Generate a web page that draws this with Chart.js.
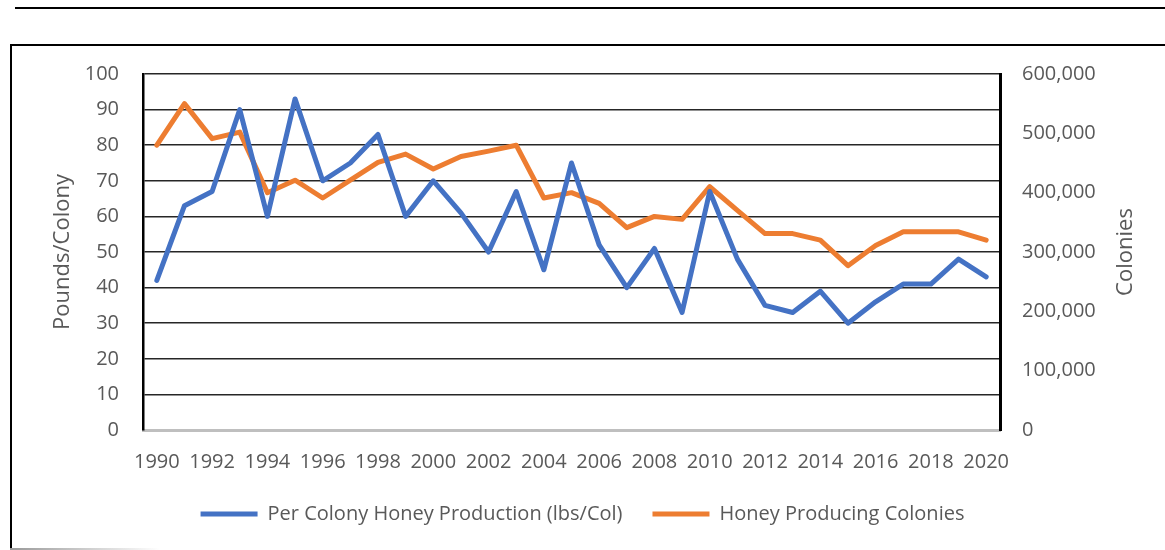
<!DOCTYPE html>
<html>
<head>
<meta charset="utf-8">
<script src="https://cdn.jsdelivr.net/npm/chart.js@4.4.0/dist/chart.umd.min.js"></script>
<style>
  html, body { margin: 0; padding: 0; background: #fff; }
  #wrap { position: relative; width: 1165px; height: 550px; overflow: hidden; }
  #topline { position: absolute; left: 15px; top: 7px; width: 1150px; height: 2px; background: #000; }
  #frame { position: absolute; left: 10px; top: 44px; width: 1200px; height: 520px;
           border-left: 2px solid #000; border-top: 2px solid #000; }
  #foot { position: absolute; left: 10px; top: 548px; width: 150px; height: 2px;
          background: linear-gradient(to right, #999, #fff); }
  #grapHoney { position: absolute; left: 0; top: 0; }
</style>
</head>
<body>
<div id="wrap">
  <div id="topline"></div>
  <div id="frame"></div>
  <div id="foot"></div>
  <canvas id="grapHoney" width="1165" height="550"></canvas>
</div>
<script>
// years on the category axis
var years = ['1990', '1991', '1992', '1993', '1994', '1995', '1996', '1997', '1998', '1999',
  '2000', '2001', '2002', '2003', '2004', '2005', '2006', '2007', '2008', '2009',
  '2010', '2011', '2012', '2013', '2014', '2015', '2016', '2017', '2018', '2019', '2020'];

// lbs per colony (left axis)
var lbsPerColony = [42, 63, 67, 90, 60, 93, 70, 75, 83, 60,
  70, 61, 50, 67, 45, 75, 52, 40, 51, 33,
  67, 48, 35, 33, 39, 30, 36, 41, 41, 48, 43];

// honey producing colonies (right axis)
var colonies = [480000, 550000, 491000, 502000, 400000, 421000, 391000, 421000, 451000, 465000,
  440000, 461000, 470000, 480000, 391000, 400000, 382000, 341000, 360000, 355000,
  410000, 370000, 331000, 331000, 320000, 277000, 311000, 334000, 334000, 334000, 320000];

var textColor = '#595959';
var fontFam = "'Open Sans', sans-serif";

// right axis title reads bottom-to-top like the left one
var colTitle = {
  id: 'colTitle',
  afterDraw: function (chart) {
    var c = chart.ctx, a = chart.chartArea;
    c.save();
    c.translate(chart.scales.y1.right - 39, (a.top + a.bottom) / 2);
    c.rotate(-Math.PI / 2);
    c.textAlign = 'center';
    c.textBaseline = 'middle';
    c.fillStyle = textColor;
    c.font = "22px 'Open Sans'";
    c.fillText('Colonies', 0, 0);
    c.restore();
  }
};

var ctx = document.getElementById('grapHoney');
new Chart(ctx, {
  type: 'line',
  plugins: [colTitle],
  data: {
    labels: years,
    datasets: [{
      label: 'Per Colony Honey Production (lbs/Col)',
      data: lbsPerColony,
      yAxisID: 'y',
      borderColor: '#4472C4',
      backgroundColor: '#4472C4',
      borderWidth: 5,
      borderCapStyle: 'round',
      borderJoinStyle: 'round',
      pointRadius: 0,
      tension: 0,
      fill: false
    }, {
      label: 'Honey Producing Colonies',
      data: colonies,
      yAxisID: 'y1',
      borderColor: '#ED7D31',
      backgroundColor: '#ED7D31',
      borderWidth: 5,
      borderCapStyle: 'round',
      borderJoinStyle: 'round',
      pointRadius: 0,
      tension: 0,
      fill: false
    }]
  },
  options: {
    responsive: false,
    animation: false,
    devicePixelRatio: 1,
    layout: { padding: { top: 74, bottom: 16, left: 0, right: 0 } },
    plugins: {
      legend: {
        position: 'bottom',
        labels: {
          usePointStyle: true,
          pointStyle: 'line',
          pointStyleWidth: 57,
          padding: 30,
          color: textColor,
          font: { family: fontFam, size: 20 }
        }
      },
      tooltip: { enabled: false }
    },
    scales: {
      x: {
        offset: true,
        afterFit: function (s) { s.height = 44; },
        grid: { display: false, drawTicks: false, offset: false },
        border: { display: true, color: '#bfbfbf', width: 3 },
        ticks: {
          autoSkip: false,
          maxRotation: 0,
          padding: 20,
          color: textColor,
          font: { family: fontFam, size: 20 },
          callback: function (val, i) { return i % 2 === 0 ? years[i] : ''; }
        }
      },
      y: {
        position: 'left',
        min: 0,
        max: 100,
        afterFit: function (s) { s.width = 143; },
        ticks: { stepSize: 10, padding: 24, color: textColor, font: { family: fontFam, size: 20 } },
        grid: {
          drawTicks: false,
          lineWidth: 1.5,
          color: function (c) { return c.index === 0 ? '#bfbfbf' : '#262626'; }
        },
        border: { display: true, color: '#000', width: 2.5 },
        title: {
          display: true,
          text: 'Pounds/Colony',
          color: textColor,
          padding: { top: 50, bottom: 0 },
          font: { family: fontFam, size: 22, weight: 'normal' }
        }
      },
      y1: {
        position: 'right',
        min: 0,
        max: 600000,
        afterFit: function (s) { s.width = 165; },
        ticks: {
          stepSize: 100000,
          padding: 22,
          color: textColor,
          font: { family: fontFam, size: 20 },
          callback: function (v) { return v.toLocaleString('en-US'); }
        },
        grid: { display: false, drawTicks: false },
        border: { display: true, color: '#000', width: 3 }
      }
    }
  }
});
</script>
</body>
</html>
